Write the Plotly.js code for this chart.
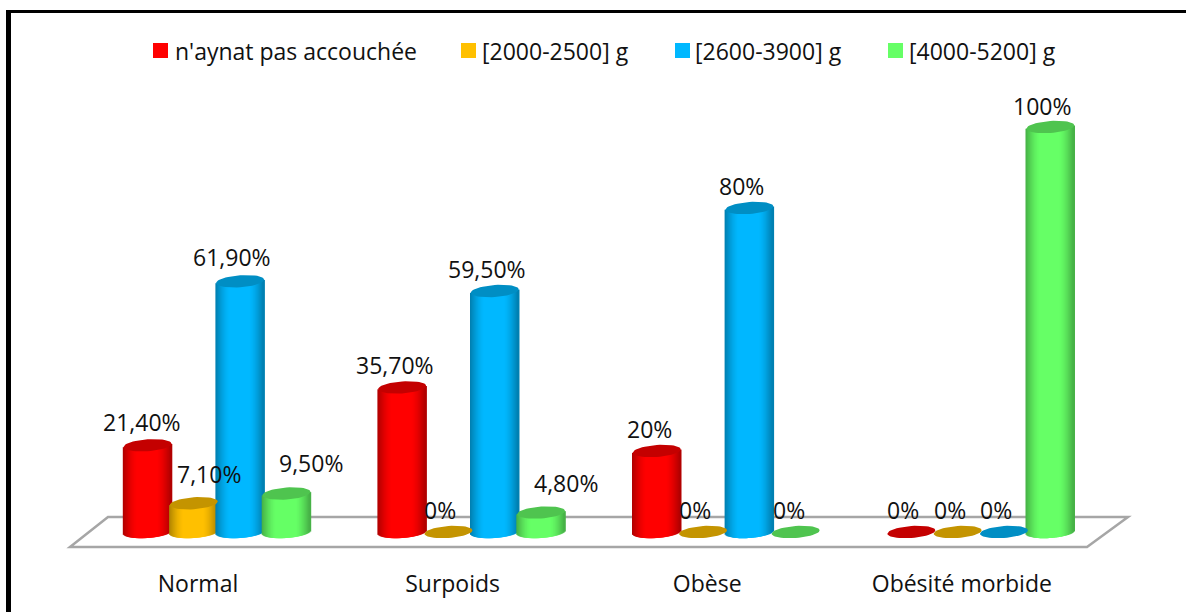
<!DOCTYPE html>
<html><head><meta charset="utf-8">
<script src="https://cdn.plot.ly/plotly-3.0.1.min.js"></script>
<style>html,body{margin:0;padding:0;background:#fff;overflow:hidden}#c{width:1186px;height:612px}</style>
</head><body><div id="c"></div>
<script>
const categories = ["Normal", "Surpoids", "Obèse", "Obésité morbide"];
const seriesNames = ["n'aynat pas accouchée", "[2000-2500] g", "[2600-3900] g", "[4000-5200] g"];
const seriesColors = [[255,0,0],[255,192,0],[0,184,255],[102,255,102]];
const redValues = [21.4, 35.7, 20, 0];
const yellowValues = [7.1, 0, 0, 0];
const blueValues = [61.9, 59.5, 80, 0];
const greenValues = [9.5, 4.8, 0, 100];
const redLabels = ["21,40%", "35,70%", "20%", "0%"];
const yellowLabels = ["7,10%", "0%", "0%", "0%"];
const blueLabels = ["61,90%", "59,50%", "80%", "0%"];
const greenLabels = ["9,50%", "4,80%", "0%", "100%"];
const allValues = [redValues, yellowValues, blueValues, greenValues];
const allLabels = [redLabels, yellowLabels, blueLabels, greenLabels];

const W = 1186, H = 612, FONT = "'Open Sans', Lato, sans-serif", TXT = "#111", FS = 23;
const pxX = 254.6, pxY = 4.05, zeroPx = 532, plotBottom = 552, cat0Px = 217;
const barStep = 46.3 / pxX, RX = 24, RY = 6, SHEAR = 0.07, STRIP = 1;
const shade = (c, s) => `rgb(${c.map(v => Math.round(v * s)).join(',')})`;
const paperX = px => px / W;
const paperY = py => (plotBottom - py) / plotBottom;

const traces = [], capTraces = [], annotations = [];
allValues.forEach((vals, j) => {
  const xs = [], ys = [], bases = [], cols = [];
  const cx = [], cy = [];
  vals.forEach((v, i) => {
    const ctr = i + (j - 1.5) * barStep;
    if (v > 0) {
      for (let d = -RX + STRIP / 2; d < RX; d += STRIP) {
        const t = Math.abs(d) / RX;
        const s = t < 0.4 ? 1 : 1 - 0.32 * Math.pow((t - 0.4) / 0.6, 1.5);
        xs.push(ctr + d / pxX);
        bases.push((SHEAR * d - RY * Math.sqrt(Math.max(0, 1 - t * t))) / pxY);
        ys.push(v + 1 / pxY);
        cols.push(shade(seriesColors[j], s));
      }
    }
    for (let a = 0; a <= 48; a++) {
      const th = a / 48 * 2 * Math.PI, dx = RX * Math.cos(th);
      cx.push(ctr + dx / pxX);
      cy.push(v + (SHEAR * dx + RY * Math.sin(th)) / pxY);
    }
    cx.push(null); cy.push(null);
  });
  traces.push({type: 'bar', name: seriesNames[j], x: xs, y: ys, base: bases,
    width: 2.5 / pxX, marker: {color: cols, line: {width: 0}}, hoverinfo: 'skip', showlegend: false});
  capTraces.push({type: 'scatter', mode: 'lines', name: seriesNames[j] + ' (top)', x: cx, y: cy, fill: 'toself',
    fillcolor: shade(seriesColors[j], 0.77), line: {width: 0, color: shade(seriesColors[j], 0.77)},
    hoverinfo: 'skip', showlegend: false});
});

// label nudges in pixels [series][category]
const nudgeX = [[-6,-7,-7,-8],[15,-8,-8,-8],[-8,-8,-8,-8],[25,25,-7,-8]];
const nudgeY = [[23,22,22,22],[29,22,22,22],[24,22,22,22],[31,30,22,21]];
allValues.forEach((vals, j) => vals.forEach((v, i) => {
  annotations.push({xref: 'x', yref: 'y', x: i + (j - 1.5) * barStep, y: v, text: allLabels[j][i],
    xshift: nudgeX[j][i], yshift: nudgeY[j][i], showarrow: false, xanchor: 'center', yanchor: 'middle',
    font: {family: FONT, size: FS, color: TXT}});
}));

const legendSwatchPx = [153, 461, 675, 888];
const legendTextPx = [174, 481, 694, 908];
seriesNames.forEach((n, j) => annotations.push({xref: 'paper', yref: 'paper', x: paperX(legendTextPx[j]), y: paperY(51),
  text: n, showarrow: false, xanchor: 'left', yanchor: 'middle', borderpad: 0, font: {family: FONT, size: FS, color: TXT}}));

const rectPx = (x0, y0, x1, y1, color) => ({type: 'rect', xref: 'paper', yref: 'paper', x0: paperX(x0), x1: paperX(x1),
  y0: paperY(y0), y1: paperY(y1), fillcolor: color, line: {width: 0}, layer: 'above'});
const shapes = [
  rectPx(6, 10, 11, 612, '#000'), rectPx(6, 10, 1186, 13, '#000'),
  {type: 'path', xref: 'paper', yref: 'paper', layer: 'below', line: {color: '#a6a6a6', width: 2.5}, fillcolor: 'rgba(0,0,0,0)',
   path: `M ${paperX(70)},${paperY(547)} L ${paperX(1087)},${paperY(547)} L ${paperX(1128)},${paperY(517)} L ${paperX(108)},${paperY(517)} Z`}
];
seriesColors.forEach((c, j) => shapes.push(rectPx(legendSwatchPx[j], 43, legendSwatchPx[j] + 15, 58, shade(c, 1))));

const layout = {
  width: W, height: H, paper_bgcolor: '#fff', plot_bgcolor: 'rgba(0,0,0,0)', showlegend: false,
  margin: {l: 0, r: 0, t: 0, b: H - plotBottom, pad: 0}, barmode: 'overlay', bargap: 0.1,
  font: {family: FONT, color: TXT},
  xaxis: {type: 'linear', range: [-cat0Px / pxX, (W - cat0Px) / pxX], tickmode: 'array',
    tickvals: categories.map((_, i) => i - 19 / pxX), ticktext: categories,
    showgrid: false, zeroline: false, showline: false, ticks: 'outside', ticklen: 11, tickcolor: 'rgba(0,0,0,0)',
    tickfont: {family: FONT, size: FS, color: TXT}, fixedrange: true},
  yaxis: {type: 'linear', range: [(zeroPx - plotBottom) / pxY, zeroPx / pxY], showgrid: false, zeroline: false,
    showline: false, showticklabels: false, ticks: '', fixedrange: true},
  shapes, annotations
};
Plotly.newPlot('c', traces.concat(capTraces), layout, {displayModeBar: false, staticPlot: true});
</script></body></html>
